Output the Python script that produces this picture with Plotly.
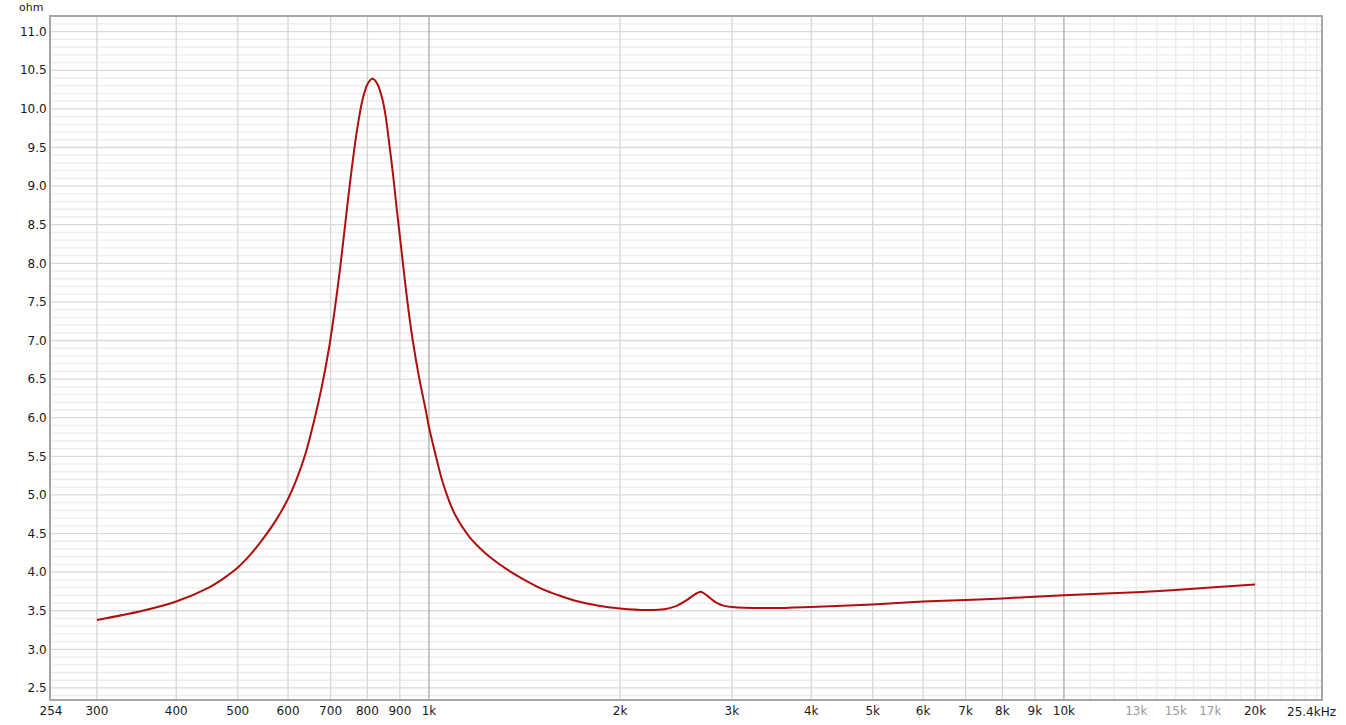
import numpy as np
import plotly.graph_objects as go

# ---- data ----
freq_hz = [300, 350, 400, 450, 475, 500, 525, 550, 575, 600, 620, 640, 659, 678, 696,
           712, 725, 738, 750, 762, 773, 785, 800, 815, 830, 845, 855, 866, 878, 890,
           900, 910, 925, 943, 965, 990, 1000, 1020, 1048, 1075, 1100, 1157, 1200,
           1250, 1336, 1400, 1500, 1600, 1700, 1850, 2000, 2200, 2350, 2450, 2550,
           2620, 2680, 2740, 2800, 2850, 2900, 3000, 3500, 4000, 5000, 6000, 7000,
           8000, 10000, 13000, 15000, 17000, 20000]
impedance_ohm = [3.38, 3.49, 3.62, 3.8, 3.92, 4.06, 4.24, 4.45, 4.68, 4.95, 5.22,
                 5.55, 5.95, 6.4, 6.9, 7.45, 7.95, 8.5, 9.0, 9.45, 9.8, 10.1, 10.32,
                 10.39, 10.32, 10.12, 9.9, 9.55, 9.15, 8.7, 8.35, 8.0, 7.5, 7.0, 6.52,
                 6.07, 5.88, 5.58, 5.2, 4.93, 4.74, 4.46, 4.32, 4.19, 4.02, 3.92, 3.79,
                 3.7, 3.63, 3.565, 3.53, 3.51, 3.52, 3.56, 3.64, 3.71, 3.745, 3.7,
                 3.635, 3.595, 3.57, 3.548, 3.535, 3.55, 3.58, 3.62, 3.64, 3.66, 3.70,
                 3.74, 3.77, 3.80, 3.84]

x_tick_vals = [254, 300, 400, 500, 600, 700, 800, 900, 1000, 2000, 3000, 4000, 5000,
               6000, 7000, 8000, 9000, 10000, 13000, 15000, 17000, 20000]
x_tick_text = ["254", "300", "400", "500", "600", "700", "800", "900", "1k", "2k", "3k",
               "4k", "5k", "6k", "7k", "8k", "9k", "10k",
               "<span style='color:#9a9a9a'>13k</span>",
               "<span style='color:#9a9a9a'>15k</span>",
               "<span style='color:#9a9a9a'>17k</span>", "20k"]
y_tick_vals = [2.5, 3.0, 3.5, 4.0, 4.5, 5.0, 5.5, 6.0, 6.5, 7.0, 7.5, 8.0, 8.5, 9.0,
               9.5, 10.0, 10.5, 11.0]

x_min, x_max = 254, 25400
y_min, y_max = 2.357, 11.19

# gridline positions
x_grid_dark = [1000, 10000]
x_grid_mid = [300, 400, 500, 600, 700, 800, 900, 2000, 3000, 4000, 5000, 6000, 7000,
              8000, 9000, 20000]
x_grid_light = [11000, 12000, 13000, 14000, 15000, 16000, 17000, 18000, 19000,
                21000, 22000, 23000, 24000, 25000]
y_grid_mid = y_tick_vals
y_grid_light = [round(v, 1) for v in np.arange(2.4, 11.2, 0.1) if round(v * 10) % 5 != 0]


def vlines(xs):
    X, Y = [], []
    for v in xs:
        X += [v, v, None]
        Y += [y_min, y_max, None]
    return X, Y


def hlines(ys):
    X, Y = [], []
    for v in ys:
        X += [x_min, x_max, None]
        Y += [v, v, None]
    return X, Y


fig = go.Figure()

for (xs, ys), col in [
    (hlines(y_grid_light), "#ececec"),
    (vlines(x_grid_light), "#ececec"),
    (hlines(y_grid_mid), "#dadada"),
    (vlines(x_grid_mid), "#d6d6d6"),
    (vlines(x_grid_dark), "#ababab"),
]:
    fig.add_trace(go.Scatter(x=xs, y=ys, mode="lines", line=dict(color=col, width=1.3),
                             hoverinfo="skip", showlegend=False))

fig.add_trace(go.Scatter(x=freq_hz, y=impedance_ohm, mode="lines",
                         line=dict(color="#b00e0e", width=2, shape="spline", smoothing=0.7),
                         showlegend=False, name="Impedance"))

tick_font = dict(family="DejaVu Sans", size=12, color="#1a1a1a")
fig.update_xaxes(type="log", range=[np.log10(x_min), np.log10(x_max)],
                 tickvals=x_tick_vals, ticktext=x_tick_text, showgrid=False,
                 zeroline=False, showline=True, linecolor="#a6a6a6", linewidth=2,
                 mirror=True, ticks="", tickfont=tick_font, automargin=False)
fig.update_yaxes(range=[y_min, y_max], tickvals=y_tick_vals, tickformat=".1f",
                 showgrid=False, zeroline=False, showline=True, linecolor="#a6a6a6",
                 linewidth=2, mirror=True, ticks="", tickfont=tick_font,
                 automargin=False)

fig.add_annotation(text="ohm", xref="paper", yref="paper", x=-0.0047, y=1.0,
                   xanchor="right", yanchor="bottom", yshift=1, showarrow=False,
                   font=dict(family="DejaVu Sans", size=11, color="#1a1a1a"))
fig.add_annotation(text="25.4kHz", xref="paper", yref="paper", x=1.0134, y=0,
                   xanchor="right", yanchor="top", yshift=-4, showarrow=False,
                   font=tick_font)

fig.update_layout(width=1346, height=725, margin=dict(l=51, r=25, t=17, b=26),
                  plot_bgcolor="white", paper_bgcolor="white", showlegend=False)

# remove the default page margin so the figure fills the window exactly
fig.write_html("out.html", config={"displayModeBar": False},
               post_script="document.body.style.margin='0';"
                           "document.body.style.overflow='hidden';")
